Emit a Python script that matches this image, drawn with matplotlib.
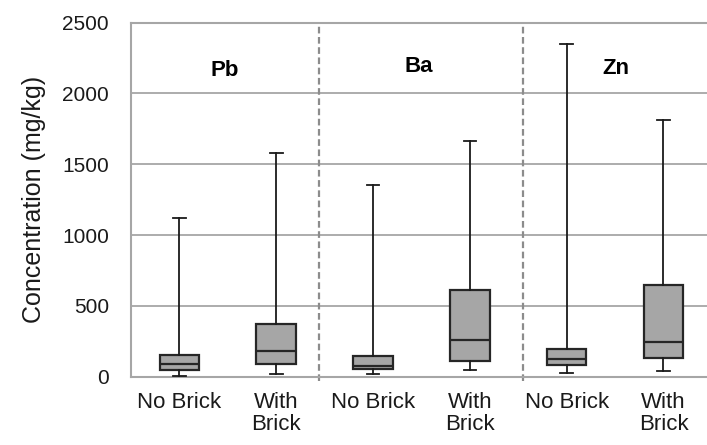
import matplotlib
matplotlib.use("Agg")
import matplotlib.pyplot as plt

plt.rcParams['font.family'] = ['Liberation Sans', 'DejaVu Sans']

# five-number summaries per group (mg/kg)
labels = ["No Brick", "With\nBrick", "No Brick", "With\nBrick", "No Brick", "With\nBrick"]
metals = ["Pb", "Ba", "Zn"]
whislo = [7, 17, 19, 47, 26, 38]
q1 = [45, 90, 54, 111, 80, 134]
med = [92, 182, 78, 262, 127, 245]
q3 = [153, 373, 144, 613, 198, 645]
whishi = [1122, 1577, 1356, 1665, 2350, 1810]

stats = []
for i in range(len(labels)):
    stats.append({"whislo": whislo[i], "q1": q1[i], "med": med[i],
                  "q3": q3[i], "whishi": whishi[i], "label": labels[i]})

fig = plt.figure(figsize=(7.07, 4.45), dpi=100)
ax = fig.add_axes([0.1853, 0.1535, 0.8147, 0.7959])

grid_col = "#a6a6a6"
for v in range(500, 2500, 500):
    ax.axhline(v, color=grid_col, lw=1.3, zorder=0)

pos = list(range(len(labels)))
ax.bxp(stats, positions=pos, widths=0.41, showfliers=False, patch_artist=True,
       boxprops=dict(facecolor="#a6a6a6", edgecolor="#262626", linewidth=1.6),
       medianprops=dict(color="#262626", linewidth=1.6),
       whiskerprops=dict(color="#1a1a1a", linewidth=1.3),
       capprops=dict(color="#1a1a1a", linewidth=1.3),
       capwidths=0.13, zorder=3)

# separators between metals
for xs in [1.44, 3.554]:
    ax.plot([xs, xs], [-30, 2500], color="#8c8c8c", lw=1.6, ls=(0, (3, 1.6)),
            clip_on=False, zorder=2)

label_x = [0.472, 2.476, 4.511]
label_y = [2120, 2150, 2140]
for name, lx, ly in zip(metals, label_x, label_y):
    ax.text(lx, ly, name, ha="center", va="baseline", fontsize=16, fontweight="bold")

ax.set_xlim(-0.5, 5.45)
ax.set_ylim(0, 2500)
ax.set_yticks(range(0, 2501, 500))
ax.set_xticks(pos)
ax.set_xticklabels(labels, fontsize=16, color="#1a1a1a", linespacing=1.05)
ax.tick_params(axis="y", labelsize=15, labelcolor="#1a1a1a", length=0, pad=16)
ax.tick_params(axis="x", length=0, pad=11)
ax.set_ylabel("Concentration (mg/kg)", fontsize=18, color="#1a1a1a")
ax.yaxis.set_label_coords(-0.148, 0.5)

for side in ["left", "top", "bottom"]:
    ax.spines[side].set_color(grid_col)
    ax.spines[side].set_linewidth(1.5)
ax.spines["right"].set_visible(False)

fig.savefig("out.png", dpi=100)
